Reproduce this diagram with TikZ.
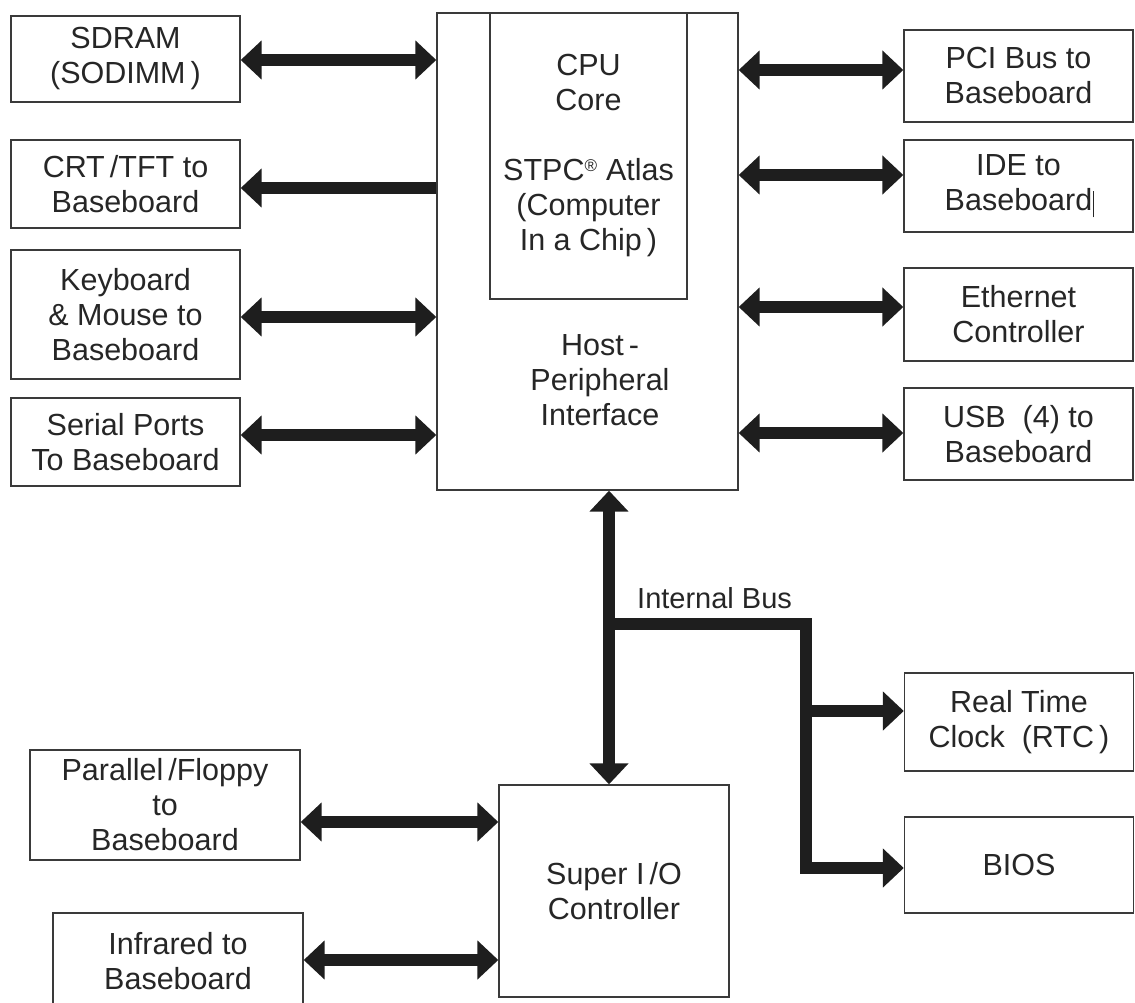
\documentclass[tikz,border=0pt]{standalone}
\usepackage{fontspec}
\setmainfont{Liberation Sans}
\usetikzlibrary{arrows.meta}
\definecolor{boxc}{HTML}{3A3A3A}
\definecolor{arr}{HTML}{1E1E1E}
\definecolor{txt}{HTML}{262626}
\begin{document}
\begin{tikzpicture}[x=1pt,y=-1pt,
  box/.style={draw=boxc, line width=1.4pt, inner sep=0pt, align=center,
    font=\fontsize{30.5}{35}\selectfont, text=txt},
  lbl/.style={inner sep=0pt, align=center, font=\fontsize{30.5}{35}\selectfont, text=txt},
  bus/.style={line width=12pt, draw=arr, line join=miter},
  dbl/.style={bus, {Triangle[length=21pt,width=38pt]}-{Triangle[length=21pt,width=38pt]}},
  sgl/.style={bus, -{Triangle[length=21pt,width=38pt]}}]
\useasboundingbox[fill=white] (0,0) rectangle (1135,1003);
\begin{scope}
\clip (0,0) rectangle (1135,1003);
% left boxes
\node[box, minimum width=229pt, minimum height=86pt] (sdram) at (125.5,59) {SDRAM\\(SODIMM\,)};
\node[box, minimum width=229pt, minimum height=88pt] (crt) at (125.5,184) {CRT\,/TFT to\\Baseboard};
\node[box, minimum width=229pt, minimum height=129pt] (kbd) at (125.5,314.5) {Keyboard\\\& Mouse to\\Baseboard};
\node[box, minimum width=229pt, minimum height=88pt] (ser) at (125.5,442) {Serial Ports\\To Baseboard};
% main
\node[box, minimum width=301pt, minimum height=477pt] (main) at (587.5,251.5) {};
\node[box, minimum width=197pt, minimum height=286pt] (cpu) at (588.5,156)
  {CPU\\Core\\[35pt]STPC\textsuperscript{\fontsize{17}{17}\selectfont ®} Atlas\\(Computer\\In a Chip\,)};
\node[lbl] (host) at (600,380) {Host\,-\\Peripheral\\Interface};
% right boxes
\node[box, minimum width=229pt, minimum height=92pt] (pci) at (1018.5,76) {PCI Bus to\\Baseboard};
\node[box, minimum width=229pt, minimum height=92pt] (ide) at (1018.5,186)
  {IDE to\\Baseboard\rlap{\hspace{1pt}\rule[-7pt]{1.2pt}{26pt}}};
\node[box, minimum width=229pt, minimum height=93pt] (eth) at (1018.5,314.5) {Ethernet\\Controller};
\node[box, minimum width=229pt, minimum height=92pt] (usb) at (1018.5,434) {USB\ \ (4) to\\Baseboard};
\node[box, minimum width=229pt, minimum height=98pt] (rtc) at (1019,722) {Real Time\\Clock\ \ (RTC\,)};
\node[box, minimum width=229pt, minimum height=96pt] (bios) at (1019,865) {BIOS};
% bottom left
\node[box, minimum width=270pt, minimum height=110pt] (par) at (165,805) {Parallel\,/Floppy\\to\\Baseboard};
\node[box, minimum width=250pt, minimum height=97pt] (ir) at (178,961.5) {Infrared to\\Baseboard};
\node[box, minimum width=230pt, minimum height=212pt] (sio) at (614,891) {Super I\,/O\\Controller};
\node[lbl, anchor=west, font=\fontsize{29}{34}\selectfont] (ibus) at (637,598) {Internal Bus};
% connectors left
\draw[dbl] (sdram.east |- 0,60) -- (main.west |- 0,60);
\draw[sgl] (main.west |- 0,188) -- (crt.east |- 0,188);
\draw[dbl] (kbd.east |- 0,317) -- (main.west |- 0,317);
\draw[dbl] (ser.east |- 0,435) -- (main.west |- 0,435);
% connectors right
\draw[dbl] (main.east |- 0,70) -- (pci.west |- 0,70);
\draw[dbl] (main.east |- 0,175) -- (ide.west |- 0,175);
\draw[dbl] (main.east |- 0,307) -- (eth.west |- 0,307);
\draw[dbl] (main.east |- 0,433) -- (usb.west |- 0,433);
% internal bus
\draw[dbl] (main.south -| 609,0) -- (sio.north -| 609,0);
\coordinate (j1) at (609,624);
\coordinate (j2) at (806,711);
\draw[sgl] (j1) -| (806,868) -- (bios.west |- 0,868);
\draw[sgl] (j2) -- (rtc.west |- j2);
% super io
\draw[dbl] (par.east |- 0,822) -- (sio.west |- 0,822);
\draw[dbl] (ir.east |- 0,960) -- (sio.west |- 0,960);
\end{scope}
\end{tikzpicture}
\end{document}
